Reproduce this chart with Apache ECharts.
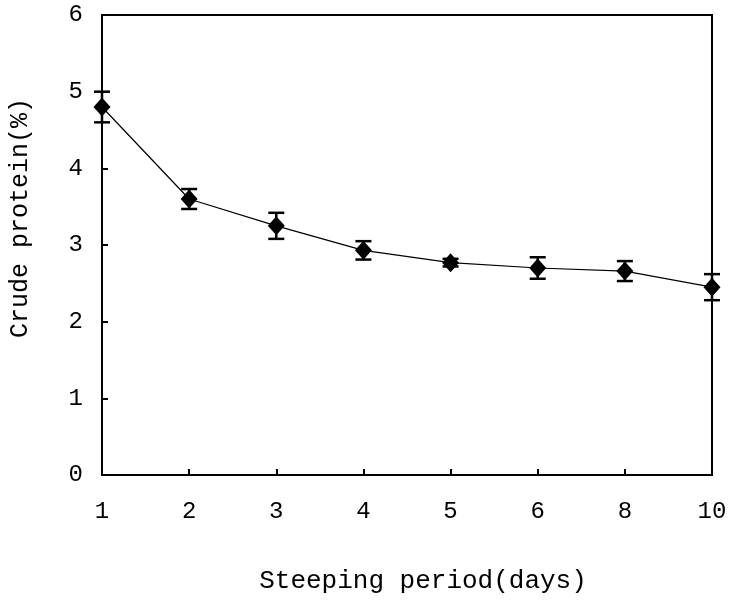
<!DOCTYPE html>
<html>
<head>
<meta charset="utf-8">
<script src="https://cdn.jsdelivr.net/npm/echarts@6/dist/echarts.min.js"></script>
<style>
  html, body { margin: 0; padding: 0; background: #fff; }
  #chart { width: 743px; height: 601px; }
</style>
</head>
<body>
<div id="chart"></div>
<script>
// steeping period (days) and crude protein (%) with error
const days = ['1', '2', '3', '4', '5', '6', '8', '10'];
const protein = [4.80, 3.60, 3.25, 2.93, 2.77, 2.70, 2.66, 2.45];
const errors = [0.20, 0.13, 0.17, 0.12, 0.05, 0.14, 0.13, 0.17];

const font = 'Liberation Mono, Courier New, monospace';

const chart = echarts.init(document.getElementById('chart'));

const errorData = protein.map((v, i) => [i, v - errors[i], v + errors[i]]);

chart.setOption({
  animation: false,
  backgroundColor: '#fff',
  grid: {
    left: 102, right: 31, top: 15, bottom: 126,
    outerBoundsMode: 'none',
    show: true, borderColor: '#000', borderWidth: 2
  },
  xAxis: {
    type: 'category',
    data: days,
    boundaryGap: false,
    name: 'Steeping period(days)',
    nameLocation: 'middle',
    nameGap: 93,
    nameTextStyle: { fontFamily: font, fontSize: 26, color: '#000', padding: [0, 0, 0, 32] },
    axisLine: { lineStyle: { color: '#000', width: 2 } },
    axisTick: { inside: true, length: 6, lineStyle: { color: '#000', width: 2 } },
    axisLabel: { fontFamily: font, fontSize: 24, color: '#000', margin: 25 },
    splitLine: { show: false }
  },
  yAxis: {
    type: 'value',
    min: 0, max: 6, interval: 1,
    name: 'Crude protein(%)',
    nameLocation: 'middle',
    nameGap: 69,
    nameTextStyle: { fontFamily: font, fontSize: 25, color: '#000', padding: [0, 0, 0, 54] },
    axisLine: { show: true, lineStyle: { color: '#000', width: 2 } },
    axisTick: { show: true, inside: true, length: 6, lineStyle: { color: '#000', width: 2 } },
    axisLabel: { fontFamily: font, fontSize: 24, color: '#000', margin: 19 },
    splitLine: { show: false }
  },
  series: [
    {
      type: 'custom',
      data: errorData,
      z: 3,
      renderItem: (params, api) => {
        const x = api.value(0);
        const lo = api.coord([x, api.value(1)]);
        const hi = api.coord([x, api.value(2)]);
        const w = 8;
        const style = { stroke: '#000', lineWidth: 2.5 };
        return {
          type: 'group',
          children: [
            { type: 'line', shape: { x1: lo[0], y1: lo[1], x2: hi[0], y2: hi[1] }, style },
            { type: 'line', shape: { x1: lo[0] - w, y1: lo[1], x2: lo[0] + w, y2: lo[1] }, style },
            { type: 'line', shape: { x1: hi[0] - w, y1: hi[1], x2: hi[0] + w, y2: hi[1] }, style }
          ]
        };
      }
    },
    {
      type: 'line',
      data: protein,
      z: 4,
      symbol: 'diamond',
      symbolSize: [17, 19],
      itemStyle: { color: '#000' },
      lineStyle: { color: '#000', width: 1.2 }
    }
  ]
});
</script>
</body>
</html>
